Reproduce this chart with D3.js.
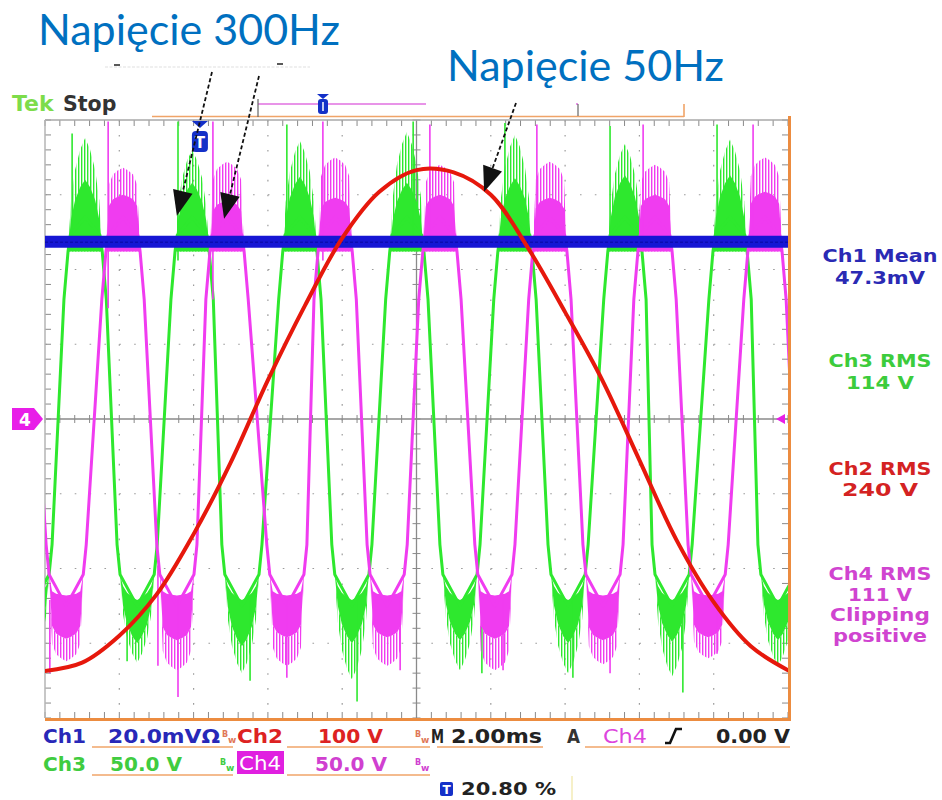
<!DOCTYPE html>
<html><head><meta charset="utf-8">
<script src="https://cdn.jsdelivr.net/npm/d3@7/dist/d3.min.js"></script>
<style>html,body{margin:0;padding:0;background:#fff;}svg{display:block;}</style>
</head><body>
<svg id="chart" width="942" height="800"></svg>
<script>
// ================= DATA =================
const timeDomainMs = [0, 20];            // 10 div x 2.00 ms
const ch1MvPerDiv = 20;
const ch2VoltsPerDiv = 100;
const ch3VoltsPerDiv = 50;
const ch4VoltsPerDiv = 50;
const triggerMs = 4.17;

// Ch1 (blue) mean level and noise band, mV
const ch1MeanMv = 47.3;
const ch1BandMv = [45.8, 49.0];

// Ch2 (red) 50 Hz voltage, sampled every 1 ms
const ch2TimeMs = [0,1,2,3,4,5,6,7,8,9,10,11,12,13,14,15,16,17,18,19,20];
const ch2Volts  = [-337,-326,-290,-235,-154,-58,52,152,242,304,333,330,300,229,143,52,-55,-162,-245,-304,-336];

// Ch3 (green) 300 Hz: burst (hump) centres and levels, cup centres and levels
const ch3HumpMs     = [1.08, 3.96, 6.86, 9.74, 12.65, 15.61, 18.44, 21.30];
const ch3HumpV      = [160, 158, 162, 158, 161, 163, 163, 160];
const ch3HumpNoiseV = [188, 180, 186, 192, 190, 184, 187, 184];
const ch3CupMs      = [-0.35, 2.48, 5.30, 8.26, 11.17, 14.08, 16.88, 19.73];
const ch3CupV       = [-150, -150, -152, -150, -148, -150, -149, -148];
const ch3CupNoiseV  = [-165, -163, -170, -174, -168, -170, -172, -165];

// Ch4 (magenta) 300 Hz
const ch4HumpMs     = [-0.95, 2.10, 4.90, 7.81, 10.63, 13.59, 16.42, 19.38];
const ch4HumpV      = [148, 150, 146, 148, 150, 148, 150, 152];
const ch4HumpNoiseV = [170, 168, 172, 175, 170, 172, 170, 175];
const ch4CupMs      = [0.57, 3.55, 6.51, 9.21, 12.11, 15.02, 17.85, 20.80];
const ch4CupV       = [-147, -148, -146, -146, -147, -148, -146, -146];
const ch4CupNoiseV  = [-162, -168, -165, -165, -168, -164, -160, -160];

// edge profile around each hump / cup (ms offset, volts)
const humpEdgeMs = [-0.57, -0.46, -0.40, 0, 0.40, 0.46, 0.57];
const humpEdgeV  = [80, 112, 123, 135, 123, 112, 80];
const cupEdgeMs  = [-0.54, -0.46, 0, 0.46, 0.54];
const cupEdgeV   = [-84, -104, -125, -104, -84];
const burstBaseV = 112;
const cupBaseV   = -104;
const ch3CupInnerV = -121;
const ch4CupInnerV = -118;
const burstMs       = [-0.46, -0.38, -0.27, -0.13, 0, 0.13, 0.27, 0.38, 0.46];
const ch3BurstShape = [0, 0.45, 0.72, 0.9, 1, 0.9, 0.72, 0.45, 0];
const ch4BurstShape = [0, 0.8, 0.92, 0.97, 1, 0.97, 0.92, 0.8, 0];

// single tall spikes (time, from V, to V)
const ch3SpikeMs    = [0.73, 3.58, 6.51, 9.91, 12.38, 15.21, 18.09, 2.21, 5.52, 8.40, 11.76, 14.21, 17.17];
const ch3SpikeFromV = [123, 106, 113, 113, 120, 113, 116, -121, -121, -121, -121, -121, -121];
const ch3SpikeToV   = [191, 199, 197, 199, 198, 196, 197, -162, -175, -189, -170, -173, -183];
const ch4SpikeMs    = [1.70, 4.52, 7.48, 10.36, 13.24, 16.10, 19.06, 0.13, 3.04, 3.58, 6.51, 9.56, 12.33, 15.21, 18.09];
const ch4SpikeFromV = [74, 80, 106, 113, 113, 113, 113, -121, -98, -121, -121, -121, -121, -121, -121];
const ch4SpikeToV   = [199, 199, 199, 197, 197, 197, 197, -170, -165, -186, -173, -168, -168, -170, -157];

// measurement texts
const measCh1 = ["Ch1 Mean", "47.3mV"];
const measCh3 = ["Ch3 RMS", "114 V"];
const measCh2 = ["Ch2 RMS", "240 V"];
const measCh4 = ["Ch4 RMS", "111 V", "Clipping", "positive"];
const readRow1 = ["Ch1", "20.0mV\u03A9", "Ch2", "100 V", "M", "2.00ms", "A", "Ch4", "0.00 V"];
const readRow2 = ["Ch3", "50.0 V", "Ch4", "50.0 V"];
const readRow3 = ["20.80 %"];
const titles = ["Napięcie 300Hz", "Napięcie 50Hz"];

// ================= DRAWING =================
const svg = d3.select('#chart');
const L = 45, R = 788, T = 120, B = 718;
const x = d3.scaleLinear().domain(timeDomainMs).range([L, R]);
const yScale = vpd => d3.scaleLinear().domain([-4 * vpd, 4 * vpd]).range([B, T]);
const y1 = yScale(ch1MvPerDiv), y2 = yScale(ch2VoltsPerDiv), y3 = yScale(ch3VoltsPerDiv), y4 = yScale(ch4VoltsPerDiv);

const COL = {green:'#2ee82e', mag:'#f03cf0', blue:'#1616d4', red:'#e6180c', grid:'#9c9c9c', orange:'#ec8c40'};

svg.append('rect').attr('width',942).attr('height',800).attr('fill','#fff');
const defs = svg.append('defs');
defs.append('clipPath').attr('id','plotClip')
  .append('rect').attr('x',L).attr('y',T).attr('width',R-L).attr('height',B-T);
[['hatchG', COL.green], ['hatchM', COL.mag]].forEach(([id, c]) => {
  const p = defs.append('pattern').attr('id', id).attr('patternUnits', 'userSpaceOnUse').attr('width', 3).attr('height', 10);
  p.append('rect').attr('x', 0).attr('y', 0).attr('width', 1.4).attr('height', 10).attr('fill', c);
});

// ---- graticule ----
const grat = svg.append('g');
const minorX = d3.range(0, 51).map(i => timeDomainMs[0] + i * 0.4);
const minorY = d3.range(0, 41).map(i => -4 + i * 0.2); // divisions
const yDiv = d3.scaleLinear().domain([-4, 4]).range([B, T]);
d3.range(1, 10).forEach(i => {
  const t = i * 2; if (t === 10) return;
  grat.append('line').attr('x1', x(t)).attr('x2', x(t)).attr('y1', T).attr('y2', B)
    .attr('stroke', COL.grid).attr('stroke-width', 1.2).attr('stroke-dasharray', '1.6,13.35');
});
d3.range(-3, 4).forEach(d => {
  if (d === 0) return;
  grat.append('line').attr('x1', L).attr('x2', R).attr('y1', yDiv(d)).attr('y2', yDiv(d))
    .attr('stroke', COL.grid).attr('stroke-width', 1.2).attr('stroke-dasharray', '1.6,13.26');
});
grat.append('line').attr('x1', x(10)).attr('x2', x(10)).attr('y1', T).attr('y2', B).attr('stroke', '#8a8a8a').attr('stroke-width', 1.3);
grat.append('line').attr('x1', L).attr('x2', R).attr('y1', yDiv(0)).attr('y2', yDiv(0)).attr('stroke', '#8a8a8a').attr('stroke-width', 1.3);
minorX.forEach(t => {
  grat.append('line').attr('x1', x(t)).attr('x2', x(t)).attr('y1', yDiv(0) - 4).attr('y2', yDiv(0) + 4).attr('stroke', '#8a8a8a');
  grat.append('line').attr('x1', x(t)).attr('x2', x(t)).attr('y1', T).attr('y2', T + 6).attr('stroke', '#8a8a8a');
  grat.append('line').attr('x1', x(t)).attr('x2', x(t)).attr('y1', B - 6).attr('y2', B).attr('stroke', '#8a8a8a');
});
minorY.forEach(d => {
  grat.append('line').attr('x1', x(10) - 4).attr('x2', x(10) + 4).attr('y1', yDiv(d)).attr('y2', yDiv(d)).attr('stroke', '#8a8a8a');
  grat.append('line').attr('x1', L).attr('x2', L + 6).attr('y1', yDiv(d)).attr('y2', yDiv(d)).attr('stroke', '#8a8a8a');
  grat.append('line').attr('x1', R - 6).attr('x2', R).attr('y1', yDiv(d)).attr('y2', yDiv(d)).attr('stroke', '#8a8a8a');
});
grat.append('line').attr('x1', L).attr('x2', R).attr('y1', T).attr('y2', T).attr('stroke', '#a8a8a8').attr('stroke-width', 1.5);
grat.append('line').attr('x1', L).attr('x2', L).attr('y1', T).attr('y2', B).attr('stroke', '#b4b4b4').attr('stroke-width', 1.5);

// ---- traces ----
const traces = svg.append('g').attr('clip-path', 'url(#plotClip)');
const lineGen = (ys) => d3.line().x(d => x(d[0])).y(d => ys(d[1]));

function tracePoints(humpMs, cupMs) {
  const ev = [];
  humpMs.forEach(t => ev.push({t, ms: humpEdgeMs, v: humpEdgeV}));
  cupMs.forEach(t => ev.push({t, ms: cupEdgeMs, v: cupEdgeV}));
  ev.sort((a, b) => a.t - b.t);
  const pts = [];
  ev.forEach(e => e.ms.forEach((dt, i) => pts.push([e.t + dt, e.v[i]])));
  return pts;
}

function drawChannel(color, hatch, ys, humpMs, humpV, humpNoiseV, cupMs, cupV, cupNoiseV, cupInnerV, shape, spMs, spFrom, spTo) {
  const g = traces.append('g');
  const ln = lineGen(ys);
  const env = (c, base, lvl) => burstMs.map((dt, i) => [c + dt, base + (lvl - base) * shape[i]]);
  // noisy outer rings (hatched)
  humpMs.forEach((c, k) => {
    g.append('path').attr('d', ln(env(c, burstBaseV, humpNoiseV[k])) + 'Z').attr('fill', `url(#${hatch})`);
  });
  cupMs.forEach((c, k) => {
    const ring = env(c, cupBaseV, cupNoiseV[k]).concat(env(c, cupBaseV, cupV[k]).reverse());
    g.append('path').attr('d', ln(ring) + 'Z').attr('fill', `url(#${hatch})`);
  });
  // dense bursts
  humpMs.forEach((c, k) => {
    g.append('path').attr('d', ln(env(c, burstBaseV, humpV[k])) + 'Z').attr('fill', color);
  });
  cupMs.forEach((c, k) => {
    const band = env(c, cupBaseV, cupV[k]).concat(env(c, cupBaseV, cupInnerV).reverse());
    g.append('path').attr('d', ln(band) + 'Z').attr('fill', color);
  });
  g.append('path').attr('d', ln(tracePoints(humpMs, cupMs)))
    .attr('fill', 'none').attr('stroke', color).attr('stroke-width', 3).attr('stroke-linejoin', 'round');
  spMs.forEach((t, i) => {
    g.append('line').attr('x1', x(t)).attr('x2', x(t)).attr('y1', ys(spFrom[i])).attr('y2', ys(spTo[i]))
      .attr('stroke', color).attr('stroke-width', 1.6);
  });
}

drawChannel(COL.green, 'hatchG', y3, ch3HumpMs, ch3HumpV, ch3HumpNoiseV, ch3CupMs, ch3CupV, ch3CupNoiseV, ch3CupInnerV, ch3BurstShape, ch3SpikeMs, ch3SpikeFromV, ch3SpikeToV);
drawChannel(COL.mag, 'hatchM', y4, ch4HumpMs, ch4HumpV, ch4HumpNoiseV, ch4CupMs, ch4CupV, ch4CupNoiseV, ch4CupInnerV, ch4BurstShape, ch4SpikeMs, ch4SpikeFromV, ch4SpikeToV);

// Ch1 blue band
traces.append('path')
  .attr('d', d3.area().x(d => x(d)).y0(y1(ch1BandMv[0])).y1(y1(ch1BandMv[1]))(timeDomainMs))
  .attr('fill', COL.blue);
traces.append('path')
  .attr('d', d3.line().x(d => x(d)).y(y1(ch1MeanMv))(timeDomainMs))
  .attr('stroke', '#0c0cb0').attr('stroke-width', 1.5).attr('stroke-dasharray', '3,2');

// Ch2 red sine
traces.append('path')
  .attr('d', d3.line().x((d, i) => x(ch2TimeMs[i])).y(d => y2(d)).curve(d3.curveCatmullRom)(ch2Volts))
  .attr('fill', 'none').attr('stroke', COL.red).attr('stroke-width', 4).attr('stroke-linecap', 'round');

// orange right & bottom border
svg.append('line').attr('x1', R + 1.5).attr('x2', R + 1.5).attr('y1', 116).attr('y2', B + 3).attr('stroke', COL.orange).attr('stroke-width', 3);
svg.append('line').attr('x1', L).attr('x2', R + 3).attr('y1', B + 1.5).attr('y2', B + 1.5).attr('stroke', COL.orange).attr('stroke-width', 3);

// ---- markers ----
const y0 = y4(0);
svg.append('path').attr('d', `M12,${y0-11}L34,${y0-11}L43,${y0}L34,${y0+11}L12,${y0+11}Z`).attr('fill', '#e81ee8');
svg.append('text').attr('x', 25).attr('y', y0 + 6.5).attr('text-anchor', 'middle').attr('fill', '#fff')
  .attr('font-family', 'DejaVu Sans').attr('font-weight', 'bold').attr('font-size', 17).text('4');
svg.append('path').attr('d', `M${R-12},${y0}L${R-3},${y0-5}L${R-3},${y0+5}Z`).attr('fill', '#e81ee8');
const tx = x(triggerMs);
svg.append('path').attr('d', `M${tx-8},${T+1}L${tx+8},${T+1}L${tx},${T+8}Z`).attr('fill', '#1430c8');
svg.append('rect').attr('x', tx - 8).attr('y', T + 11).attr('width', 16).attr('height', 21).attr('rx', 4).attr('fill', '#1430c8');
svg.append('text').attr('x', tx).attr('y', T + 28).attr('text-anchor', 'middle').attr('fill', '#fff')
  .attr('font-family', 'DejaVu Sans').attr('font-weight', 'bold').attr('font-size', 15).text('T');

// ---- top record bar ----
svg.append('line').attr('x1', 152).attr('x2', 684).attr('y1', 116.5).attr('y2', 116.5).attr('stroke', '#f0a468').attr('stroke-width', 1.6);
svg.append('line').attr('x1', 684).attr('x2', 684).attr('y1', 104).attr('y2', 117).attr('stroke', '#f0a468').attr('stroke-width', 1.6);
svg.append('line').attr('x1', 258).attr('x2', 578).attr('y1', 104).attr('y2', 104).attr('stroke', '#e070e0').attr('stroke-width', 1.6);
svg.append('line').attr('x1', 258).attr('x2', 258).attr('y1', 99).attr('y2', 117).attr('stroke', '#666').attr('stroke-width', 1.2);
svg.append('line').attr('x1', 578).attr('x2', 578).attr('y1', 104).attr('y2', 116).attr('stroke', '#666').attr('stroke-width', 1.2);
svg.append('path').attr('d', 'M317,94L329,94L323,99Z').attr('fill', '#1430c8');
svg.append('rect').attr('x', 318).attr('y', 99).attr('width', 10).attr('height', 15).attr('rx', 3).attr('fill', '#1430c8');
svg.append('line').attr('x1', 323).attr('x2', 323).attr('y1', 102).attr('y2', 111).attr('stroke', '#fff').attr('stroke-width', 1.5);

svg.append('text').attr('x', 12).attr('y', 111).attr('font-family', 'DejaVu Sans').attr('font-weight', 'bold')
  .attr('font-size', 22).attr('fill', '#7ddc4a').text('Tek');
svg.append('text').attr('x', 63).attr('y', 111).attr('font-family', 'DejaVu Sans').attr('font-weight', 'bold')
  .attr('font-size', 20.5).attr('fill', '#333').text('Stop');

// ---- annotation titles & arrows ----
svg.append('line').attr('x1', 105).attr('x2', 310).attr('y1', 67).attr('y2', 67).attr('stroke', '#efefef').attr('stroke-width', 2).attr('stroke-dasharray', '3,1.5');
svg.append('line').attr('x1', 114).attr('x2', 120).attr('y1', 65).attr('y2', 65).attr('stroke', '#222').attr('stroke-width', 1.5);
svg.append('line').attr('x1', 277).attr('x2', 283).attr('y1', 64).attr('y2', 64).attr('stroke', '#222').attr('stroke-width', 1.5);
svg.append('rect').attr('x', 426).attr('y', 48).attr('width', 150).attr('height', 58).attr('fill', '#fff');
svg.append('text').attr('x', 38).attr('y', 45).attr('font-family', 'Lato').attr('font-size', 43).attr('fill', '#0070c0').text(titles[0]);
svg.append('text').attr('x', 447).attr('y', 81).attr('font-family', 'Lato').attr('font-size', 43).attr('fill', '#0070c0').text(titles[1]);

function arrow(x0, yA, x1, yB) {
  const dx = x1 - x0, dy = yB - yA, len = Math.hypot(dx, dy), ux = dx / len, uy = dy / len;
  const hl = 25, hw = 10;
  const bx = x1 - ux * hl, by = yB - uy * hl;
  svg.append('line').attr('x1', x0).attr('y1', yA).attr('x2', bx).attr('y2', by)
    .attr('stroke', '#111').attr('stroke-width', 1.8).attr('stroke-dasharray', '4,2.5');
  svg.append('path').attr('d', `M${x1},${yB}L${bx - uy * hw},${by + ux * hw}L${bx + uy * hw},${by - ux * hw}Z`).attr('fill', '#111');
}
arrow(212, 72, x(3.55), y3(136));
arrow(259, 76, x(4.82), y4(134));
arrow(516, 103, x(11.82), y2(304));

// ---- measurement readouts (right) ----
const measBlocks = [
  [measCh1, '#2a2ab4', [262, 284], [115, 90]],
  [measCh3, '#3ccc3c', [367, 389], [103, 68]],
  [measCh2, '#d42222', [475, 496], [103, 76]],
  [measCh4, '#d044d0', [580, 600.5, 621, 641.5], [103, 64, 100, 94]]
];
measBlocks.forEach(([txt, col, ys, ws]) => txt.forEach((s, i) => {
  svg.append('text').attr('x', 880 - ws[i] / 2).attr('y', ys[i]).attr('font-family', 'DejaVu Sans')
    .attr('font-weight', 'bold').attr('font-size', 17.4).attr('fill', col)
    .attr('textLength', ws[i]).attr('lengthAdjust', 'spacingAndGlyphs').text(s);
}));

// ---- bottom readouts ----
function rd(str, xx, yy, w, col, weight, fs) {
  return svg.append('text').attr('x', xx).attr('y', yy).attr('font-family', 'DejaVu Sans')
    .attr('font-weight', weight || 'bold').attr('font-size', fs || 20).attr('fill', col)
    .attr('textLength', w).attr('lengthAdjust', 'spacingAndGlyphs').text(str);
}
const uline = (x1, x2, yy) => svg.append('line').attr('x1', x1).attr('x2', x2).attr('y1', yy).attr('y2', yy).attr('stroke', '#f0a468').attr('stroke-width', 1.6);
uline(92, 233, 747); uline(287, 430, 747); uline(437, 543, 747); uline(585, 790, 747);
uline(92, 233, 775); uline(287, 430, 775);
function bw(xx, yy, col) {
  const t = svg.append('text').attr('x', xx).attr('y', yy - 6).attr('font-family', 'DejaVu Sans')
    .attr('font-weight', 'bold').attr('fill', col).attr('font-size', 8);
  t.append('tspan').text('B');
  t.append('tspan').attr('dy', 6).attr('font-size', 9).text('w');
}
rd(readRow1[0], 43, 743, 43, '#2828b8');
rd(readRow1[1], 108, 743, 112, '#2828b8');
bw(222, 743, '#e07858');
rd(readRow1[2], 237, 743, 46, '#dd2222');
rd(readRow1[3], 318, 743, 65, '#dd2222');
bw(415, 743, '#e07858');
rd(readRow1[4], 431, 743, 13, '#222');
rd(readRow1[5], 451, 743, 91, '#222');
rd(readRow1[6], 567, 743, 13, '#333');
rd(readRow1[7], 603, 743, 44, '#dd44dd', 'normal');
svg.append('path').attr('d', 'M665,743L670,743L676,729L682,729').attr('fill', 'none').attr('stroke', '#111').attr('stroke-width', 2.6);
rd(readRow1[8], 716, 743, 74, '#222');

rd(readRow2[0], 43, 771, 43, '#40cc40');
rd(readRow2[1], 110, 771, 72, '#40cc40');
bw(220, 771, '#40cc40');
svg.append('rect').attr('x', 237).attr('y', 751).attr('width', 47).attr('height', 23).attr('fill', '#e020e0');
rd(readRow2[2], 239, 770, 42, '#fff', 'normal');
rd(readRow2[3], 315, 771, 72, '#d040d0');
bw(415, 771, '#d040d0');

svg.append('rect').attr('x', 440).attr('y', 782).attr('width', 13).attr('height', 14).attr('rx', 2).attr('fill', '#1430c8');
svg.append('text').attr('x', 446.5).attr('y', 794).attr('text-anchor', 'middle').attr('font-family', 'DejaVu Sans').attr('font-weight', 'bold').attr('font-size', 12).attr('fill', '#fff').text('T');
rd(readRow3[0], 461, 795, 95, '#222', 'bold', 18.5);
svg.append('line').attr('x1', 572).attr('x2', 572).attr('y1', 776).attr('y2', 800).attr('stroke', '#f6f0c8').attr('stroke-width', 2);
</script>
</body></html>
